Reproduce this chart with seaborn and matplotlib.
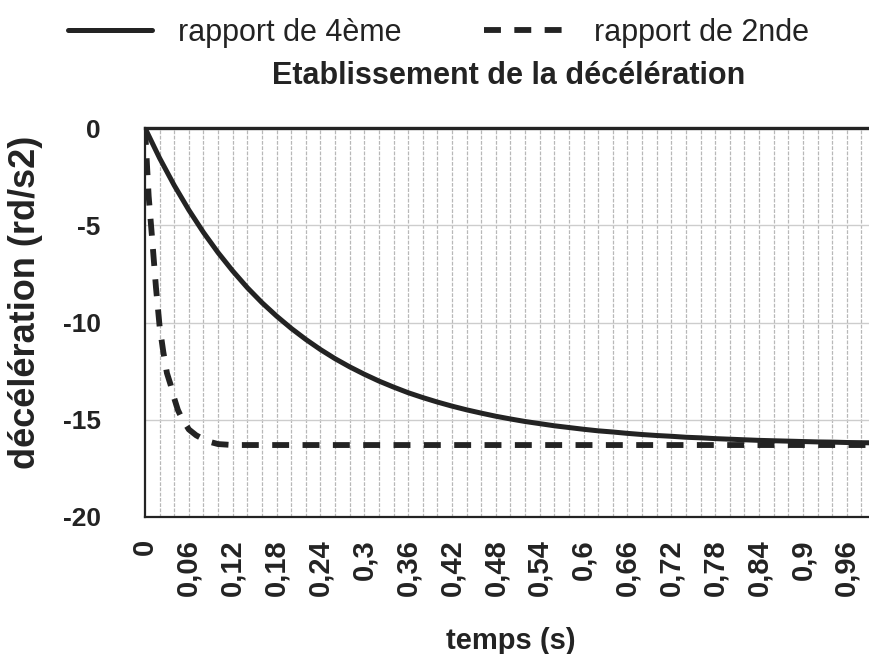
import matplotlib
matplotlib.use("Agg")
import matplotlib.pyplot as plt
import seaborn as sns
import pandas as pd
from matplotlib.lines import Line2D

# ---- data ----
t_4eme = [0.00, 0.02, 0.04, 0.06, 0.08, 0.10, 0.12, 0.14, 0.16, 0.18, 0.20,
          0.22, 0.24, 0.26, 0.28, 0.30, 0.32, 0.34, 0.36, 0.38, 0.40,
          0.42, 0.44, 0.46, 0.48, 0.50, 0.52, 0.54, 0.56, 0.58, 0.60,
          0.62, 0.64, 0.66, 0.68, 0.70, 0.72, 0.74, 0.76, 0.78, 0.80,
          0.82, 0.84, 0.86, 0.88, 0.90, 0.92, 0.94, 0.96, 0.98, 1.00]
dec_4eme = [0.0, -1.55, -2.95, -4.22, -5.37, -6.41, -7.35, -8.21, -8.98, -9.67, -10.3,
            -10.87, -11.39, -11.86, -12.28, -12.66, -13.01, -13.32, -13.61, -13.86, -14.09,
            -14.3, -14.49, -14.66, -14.82, -14.96, -15.09, -15.2, -15.31, -15.4, -15.49,
            -15.57, -15.63, -15.7, -15.76, -15.81, -15.85, -15.9, -15.93, -15.97, -16.0,
            -16.03, -16.06, -16.08, -16.1, -16.12, -16.14, -16.15, -16.17, -16.18, -16.19]

t_2nde = [0.000, 0.005, 0.010, 0.015, 0.020, 0.025, 0.030, 0.035, 0.040, 0.045,
          0.050, 0.060, 0.070, 0.080, 0.090, 0.100, 0.120, 0.200, 0.300, 0.400,
          0.500, 0.600, 0.700, 0.800, 0.900, 1.000]
dec_2nde = [0.0, -3.5, -5.8, -8.2, -10.2, -11.5, -12.6, -13.2, -13.9, -14.5,
            -14.9, -15.5, -15.8, -16.0, -16.15, -16.25, -16.3, -16.3, -16.3, -16.3,
            -16.3, -16.3, -16.3, -16.3, -16.3, -16.3]

xtick_values = [0, 0.06, 0.12, 0.18, 0.24, 0.3, 0.36, 0.42, 0.48, 0.54, 0.6,
                0.66, 0.72, 0.78, 0.84, 0.9, 0.96]
xtick_labels = ["0", "0,06", "0,12", "0,18", "0,24", "0,3", "0,36", "0,42", "0,48",
                "0,54", "0,6", "0,66", "0,72", "0,78", "0,84", "0,9", "0,96"]
ytick_values = [0, -5, -10, -15, -20]
ytick_labels = ["0", "-5", "-10", "-15", "-20"]
series_names = ["rapport de 4ème", "rapport de 2nde"]

# ---- style ----
sns.set_theme(style="white")
plt.rcParams["font.family"] = ["Liberation Sans", "DejaVu Sans"]

W, H = 870, 654
fig = plt.figure(figsize=(W / 100, H / 100), dpi=100)
fig.patch.set_facecolor("white")
ax_left, ax_right, ax_top, ax_bottom = 145, 876, 128, 517
ax = fig.add_axes([ax_left / W, 1 - ax_bottom / H,
                   (ax_right - ax_left) / W, (ax_bottom - ax_top) / H])
ax.set_facecolor("white")

df4 = pd.DataFrame({"t": t_4eme, "d": dec_4eme})
df2 = pd.DataFrame({"t": t_2nde, "d": dec_2nde})

line_color = "#232323"
solid_lw = 3.6
dash_lw = 4.2
dash_pat = (2.9, 2.3)
sns.lineplot(data=df4, x="t", y="d", ax=ax, color=line_color, linewidth=solid_lw,
             zorder=5, legend=False)
sns.lineplot(data=df2, x="t", y="d", ax=ax, color=line_color, linewidth=dash_lw,
             zorder=4, legend=False)
ax.lines[0].set_solid_joinstyle("round")
ax.lines[1].set_dashes(dash_pat)
ax.lines[1].set_dash_capstyle("butt")

ax.set_xlim(0, 1.0)
ax.set_ylim(-20, 0)

# grid
for gx in [i * 0.02 for i in range(1, 51)]:
    ax.axvline(gx, color="#b8b8b8", linewidth=0.9, linestyle=(0, (3, 1.2)), zorder=1)
for gy in [-5, -10, -15]:
    ax.axhline(gy, color="#cdcdcd", linewidth=1.0, zorder=1)

ax.set_xticks(xtick_values)
ax.set_xticklabels(xtick_labels, rotation=90, fontsize=21, fontweight="bold",
                   color="#232323")
ax.set_yticks(ytick_values)
ax.set_yticklabels(ytick_labels, fontsize=19, fontweight="bold", color="#232323")
ax.tick_params(axis="x", length=0, pad=16)
ax.tick_params(axis="y", length=0, pad=32)

for side in ["left", "bottom"]:
    ax.spines[side].set_color("#232323")
    ax.spines[side].set_linewidth(1.6)
ax.spines["top"].set_color("#232323")
ax.spines["top"].set_linewidth(2.4)
ax.spines["right"].set_visible(False)

ax.set_xlabel("temps (s)", fontsize=21, fontweight="bold", color="#232323")
ax.xaxis.set_label_coords(0.5, (ax_bottom - 627) / (ax_bottom - ax_top))
ax.set_ylabel("décélération (rd/s2)", fontsize=26, fontweight="bold", color="#232323")
ax.yaxis.set_label_coords((43 - ax_left) / (ax_right - ax_left),
                          (ax_bottom - 302) / (ax_bottom - ax_top))

fig.text(509 / W, 1 - 76 / H, "Etablissement de la décélération", ha="center",
         va="center", fontsize=22, fontweight="bold", color="#232323")

handles = [Line2D([], [], color=line_color, linewidth=solid_lw),
           Line2D([], [], color=line_color, linewidth=dash_lw, dashes=dash_pat,
                  dash_capstyle="butt")]
fig.legend(handles, series_names, loc="center left",
           bbox_to_anchor=(68 / W, 1 - 33 / H), ncol=2, frameon=False,
           fontsize=22, handlelength=2.75, handletextpad=0.85,
           columnspacing=2.7, borderpad=0, borderaxespad=0,
           labelcolor="#232323")

fig.savefig("out.png", dpi=100, facecolor="white")
